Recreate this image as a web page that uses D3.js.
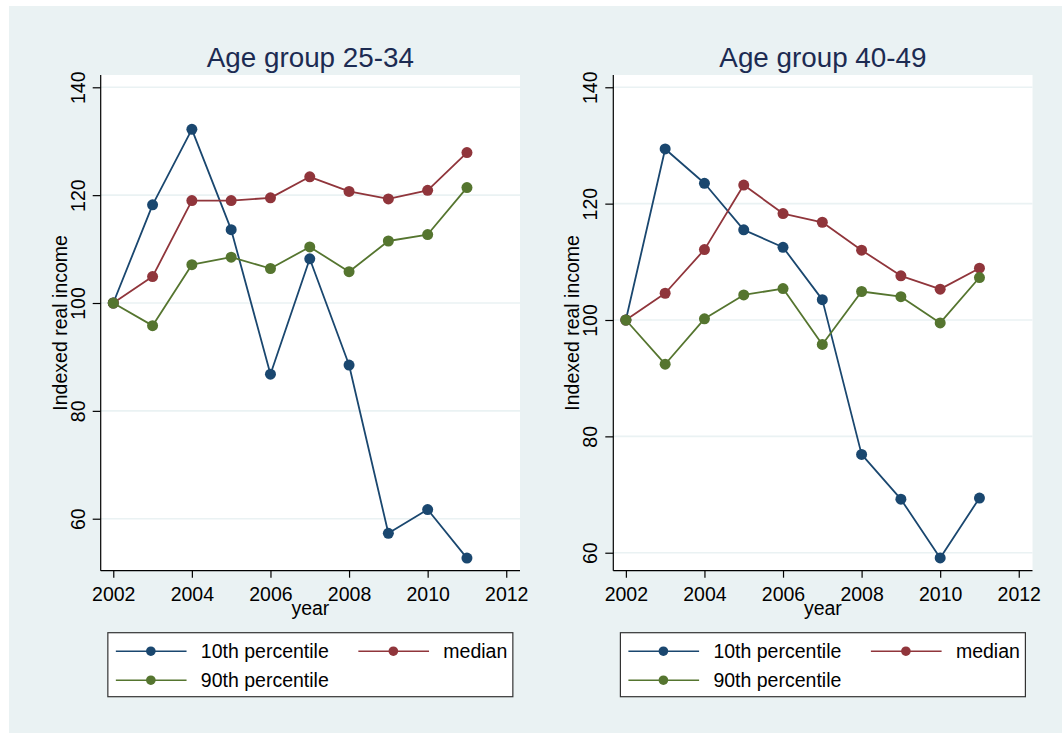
<!DOCTYPE html>
<html>
<head>
<meta charset="utf-8">
<script src="https://cdn.jsdelivr.net/npm/d3@7"></script>
<style>
  html, body { margin: 0; padding: 0; background: #ffffff; }
  svg { display: block; font-family: "Liberation Sans", Arial, sans-serif; }
</style>
</head>
<body>
<svg id="chart" width="1062" height="733"></svg>
<script>
// Indexed real income (2002 = 100) by income percentile, two age groups
const years = [2002, 2003, 2004, 2005, 2006, 2007, 2008, 2009, 2010, 2011];

const p10_25_34 = [100, 118.2, 132.2, 113.6, 86.8, 108.2, 88.5, 57.3, 61.7, 52.7];
const med_25_34 = [100, 104.9, 119.0, 119.0, 119.5, 123.4, 120.7, 119.3, 120.9, 127.9];
const p90_25_34 = [100, 95.8, 107.1, 108.5, 106.4, 110.4, 105.8, 111.5, 112.7, 121.4];

const p10_40_49 = [100, 129.4, 123.5, 115.5, 112.5, 103.5, 76.9, 69.2, 59.1, 69.4];
const med_40_49 = [100, 104.6, 112.1, 123.2, 118.3, 116.8, 112.0, 107.6, 105.3, 108.9];
const p90_40_49 = [100, 92.4, 100.2, 104.3, 105.4, 95.8, 104.9, 104.0, 99.5, 107.3];

const panelTitles = ["Age group 25-34", "Age group 40-49"];
const seriesNames = ["10th percentile", "median", "90th percentile"];
const seriesColors = ["#1a476f", "#90353b", "#55752f"];
const yTicks = [60, 80, 100, 120, 140];
const xTicks = [2002, 2004, 2006, 2008, 2010, 2012];
const xTitle = "year";
const yTitle = "Indexed real income";

const panels = [
  { title: panelTitles[0], series: [p10_25_34, med_25_34, p90_25_34],
    left: 100.7, right: 520, yDomain: [50.36, 142.28] },
  { title: panelTitles[1], series: [p10_40_49, med_40_49, p90_40_49],
    left: 613.3, right: 1032.5, yDomain: [56.91, 142.11] }
];
const plotTop = 75, plotBottom = 570.7;
const xDomain = [2001.68, 2012.35];
const fontSize = 19.5;

const svg = d3.select("#chart");

// graph region background
svg.append("rect")
  .attr("x", 9).attr("y", 6).attr("width", 1053).attr("height", 727)
  .attr("fill", "#eaf2f3");

panels.forEach(p => {
  const g = svg.append("g");
  const x = d3.scaleLinear().domain(xDomain).range([p.left, p.right]);
  const y = d3.scaleLinear().domain(p.yDomain).range([plotBottom, plotTop]);

  // plot region
  g.append("rect")
    .attr("x", p.left).attr("y", plotTop)
    .attr("width", p.right - p.left).attr("height", plotBottom - plotTop)
    .attr("fill", "#ffffff");

  // horizontal grid lines
  g.selectAll(".grid").data(yTicks).join("line")
    .attr("x1", p.left).attr("x2", p.right)
    .attr("y1", d => y(d)).attr("y2", d => y(d))
    .attr("stroke", "#eaf2f3").attr("stroke-width", 1.6);

  // y axis
  const yAxis = g.append("g")
    .attr("transform", `translate(${p.left},0)`)
    .call(d3.axisLeft(y).tickValues(yTicks).tickSize(8).tickSizeOuter(0).tickPadding(0));
  yAxis.select(".domain").attr("stroke", "#000").attr("stroke-width", 1.2)
    .attr("d", `M0,${plotTop}V${plotBottom}`);
  yAxis.selectAll(".tick line").attr("stroke", "#000").attr("stroke-width", 1.2);
  yAxis.selectAll(".tick text")
    .attr("x", 0).attr("dy", 0)
    .attr("transform", "translate(-16,0) rotate(-90)")
    .attr("text-anchor", "middle")
    .attr("fill", "#000")
    .style("font-size", fontSize + "px")
    .style("font-family", "'Liberation Sans', Arial, sans-serif");

  // x axis
  const xAxis = g.append("g")
    .attr("transform", `translate(0,${plotBottom})`)
    .call(d3.axisBottom(x).tickValues(xTicks).tickFormat(d3.format("d"))
      .tickSize(7).tickSizeOuter(0).tickPadding(0));
  xAxis.select(".domain").attr("stroke", "#000").attr("stroke-width", 1.2)
    .attr("d", `M${p.left},0H${p.right}`);
  xAxis.selectAll(".tick line").attr("stroke", "#000").attr("stroke-width", 1.2);
  xAxis.selectAll(".tick text")
    .attr("y", 30).attr("dy", 0)
    .attr("fill", "#000")
    .style("font-size", fontSize + "px")
    .style("font-family", "'Liberation Sans', Arial, sans-serif");

  const cx = (p.left + p.right) / 2;

  // axis titles
  g.append("text")
    .attr("x", cx).attr("y", 615)
    .attr("text-anchor", "middle").attr("font-size", fontSize).attr("fill", "#000")
    .text(xTitle);
  g.append("text")
    .attr("transform", `translate(${p.left - 34},${(plotTop + plotBottom) / 2}) rotate(-90)`)
    .attr("text-anchor", "middle").attr("font-size", fontSize).attr("fill", "#000")
    .text(yTitle);

  // panel title
  g.append("text")
    .attr("x", cx).attr("y", 66.5)
    .attr("text-anchor", "middle").attr("font-size", 27.8).attr("fill", "#1c2b52")
    .text(p.title);

  // series: connected lines with circle markers
  const line = d3.line().x((d, i) => x(years[i])).y(d => y(d));
  p.series.forEach((vals, si) => {
    const sg = g.append("g");
    sg.append("path")
      .attr("d", line(vals))
      .attr("fill", "none")
      .attr("stroke", seriesColors[si])
      .attr("stroke-width", 1.8)
      .attr("stroke-linejoin", "round");
    sg.selectAll("circle").data(vals).join("circle")
      .attr("cx", (d, i) => x(years[i]))
      .attr("cy", d => y(d))
      .attr("r", 5.5)
      .attr("fill", seriesColors[si]);
  });

  // legend
  const lx = cx - 202.5, ly = 632.7, lw = 405, lh = 64;
  const lg = g.append("g");
  lg.append("rect")
    .attr("x", lx).attr("y", ly).attr("width", lw).attr("height", lh)
    .attr("fill", "#ffffff").attr("stroke", "#333").attr("stroke-width", 1.2);
  const keyPos = [
    { kx: lx + 8, ty: ly + 18.5 },
    { kx: lx + 250.5, ty: ly + 18.5 },
    { kx: lx + 8, ty: ly + 47.5 }
  ];
  seriesNames.forEach((name, si) => {
    const k = keyPos[si];
    lg.append("line")
      .attr("x1", k.kx).attr("x2", k.kx + 70.7)
      .attr("y1", k.ty).attr("y2", k.ty)
      .attr("stroke", seriesColors[si]).attr("stroke-width", 1.5);
    lg.append("circle")
      .attr("cx", k.kx + 35).attr("cy", k.ty).attr("r", 4.8)
      .attr("fill", seriesColors[si]);
    lg.append("text")
      .attr("x", k.kx + 85).attr("y", k.ty + 7)
      .attr("font-size", fontSize).attr("fill", "#000")
      .text(name);
  });
});
</script>
</body>
</html>
